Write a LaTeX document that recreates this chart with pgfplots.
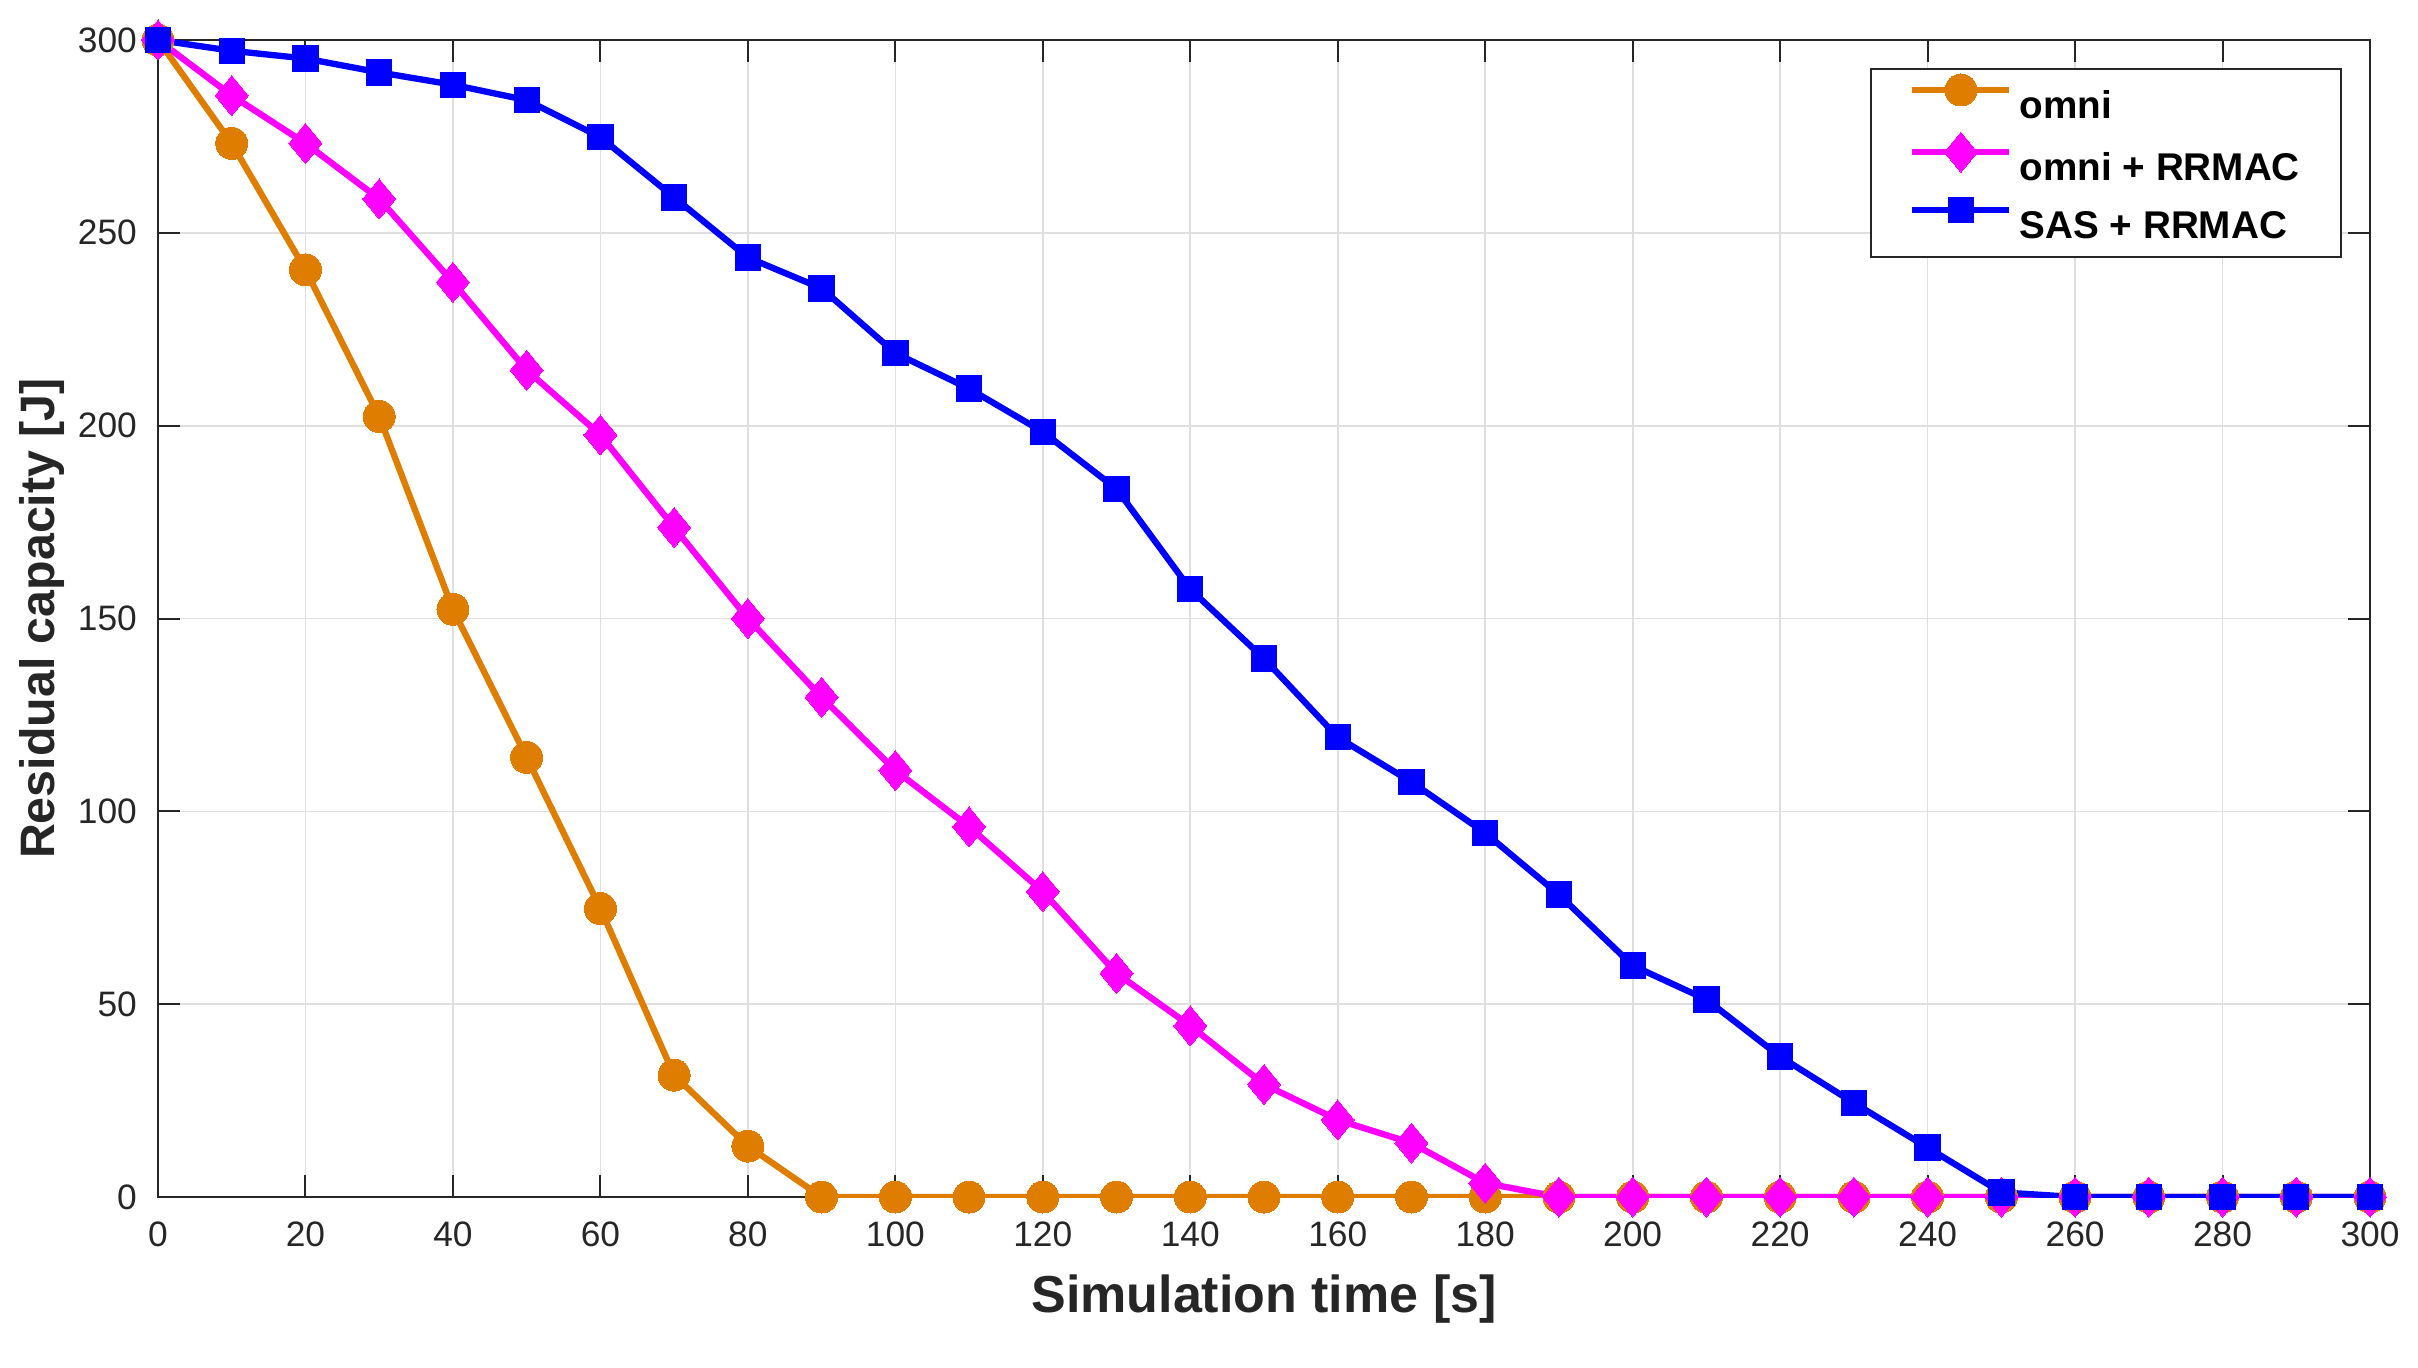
\documentclass[border=0pt]{standalone}
\usepackage{fontspec}
\setmainfont{Liberation Sans}
\usepackage{pgfplots}
\pgfplotsset{compat=1.18}
\definecolor{myorange}{RGB}{222,125,0}
\definecolor{mymagenta}{RGB}{255,0,255}
\definecolor{myblue}{RGB}{0,0,255}
\definecolor{axgray}{RGB}{38,38,38}
\definecolor{gridgray}{RGB}{223,223,223}
\begin{document}
\begin{tikzpicture}
\path[use as bounding box] (-47.4pt,-51pt) rectangle (678pt,359.1pt);
\begin{axis}[
  scale only axis,
  width=663.6pt, height=347.1pt,
  xmin=0, xmax=300, ymin=0, ymax=300,
  xtick={0,20,...,300}, ytick={0,50,...,300},
  grid=major,
  major grid style={gridgray, line width=0.5pt},
  axis line style={axgray, line width=0.6pt},
  tick style={axgray, line width=0.6pt},
  major tick length=6.6pt,
  tick align=inside,
  /pgf/number format/assume math mode=true,
  ticklabel style={font=\fontsize{10.6}{12}\selectfont, text=axgray},
  xticklabel style={yshift=-4pt},
  yticklabel style={xshift=-2.8pt},
  xlabel={Simulation time [s]},
  ylabel={Residual capacity [J]},
  xlabel style={font=\fontsize{15.6}{18}\bfseries, text=axgray, at={(axis description cs:0.5,-0.0994)}, anchor=base},
  ylabel style={font=\fontsize{14.5}{18}\bfseries, text=axgray, at={(axis description cs:-0.047,0.5)}, anchor=base},
  legend style={at={(axis description cs:0.9873,0.9758)}, anchor=north east,
    draw=axgray, line width=0.6pt, font=\fontsize{11.6}{13}\bfseries,
    inner xsep=0pt, inner ysep=1.5pt, row sep=0pt,
    nodes={inner sep=0pt, text height=13.25pt, text depth=4.05pt}},
  legend cell align=left,
  legend image code/.code={%
    \draw[mark repeat=2,mark phase=2] plot coordinates {(11.4pt,4pt) (25.95pt,4pt) (40.5pt,4pt)};
    \path (0pt,4pt) (42.6pt,4pt);},
]
\addplot[myorange, line width=1.9pt, mark=*, mark size=4.8pt, mark options={solid, fill=myorange, draw=myorange, line width=0pt}] coordinates {
(0,300) (10,273.2) (20,240.4) (30,202.4) (40,152.4) (50,114) (60,74.8) (70,31.6) (80,13.2)
(90,0) (100,0) (110,0) (120,0) (130,0) (140,0) (150,0) (160,0) (170,0) (180,0) (190,0) (200,0)
(210,0) (220,0) (230,0) (240,0) (250,0) (260,0) (270,0) (280,0) (290,0) (300,0)};
\addlegendentry{omni\kern12.3pt}
\addplot[mymagenta, line width=1.9pt, mark=diamond*, mark size=6pt, mark options={solid, fill=mymagenta, draw=mymagenta, line width=0pt, xscale=1.1}] coordinates {
(0,300) (10,285.6) (20,273.2) (30,258.8) (40,237.2) (50,214.4) (60,197.6) (70,173.6) (80,150)
(90,129.6) (100,110.6) (110,96) (120,79.2) (130,58) (140,44.4) (150,29.2) (160,20) (170,14) (180,3.6)
(190,0) (200,0) (210,0) (220,0) (230,0) (240,0) (250,0) (260,0) (270,0) (280,0) (290,0) (300,0)};
\addlegendentry{omni + RRMAC\kern12.3pt}
\addplot[myblue, line width=1.9pt, mark=square*, mark size=3.8pt, mark options={solid, fill=myblue, draw=myblue, line width=0pt}] coordinates {
(0,300) (10,297.2) (20,295.2) (30,291.6) (40,288.4) (50,284.4) (60,274.8) (70,259.2) (80,243.6)
(90,235.6) (100,218.8) (110,209.6) (120,198.4) (130,183.6) (140,157.6) (150,139.6) (160,119.2)
(170,107.6) (180,94.4) (190,78.4) (200,60) (210,51.2) (220,36.4) (230,24.4) (240,12.8) (250,1.2)
(260,0) (270,0) (280,0) (290,0) (300,0)};
\addlegendentry{SAS + RRMAC\kern12.3pt}
\end{axis}
\end{tikzpicture}
\end{document}
